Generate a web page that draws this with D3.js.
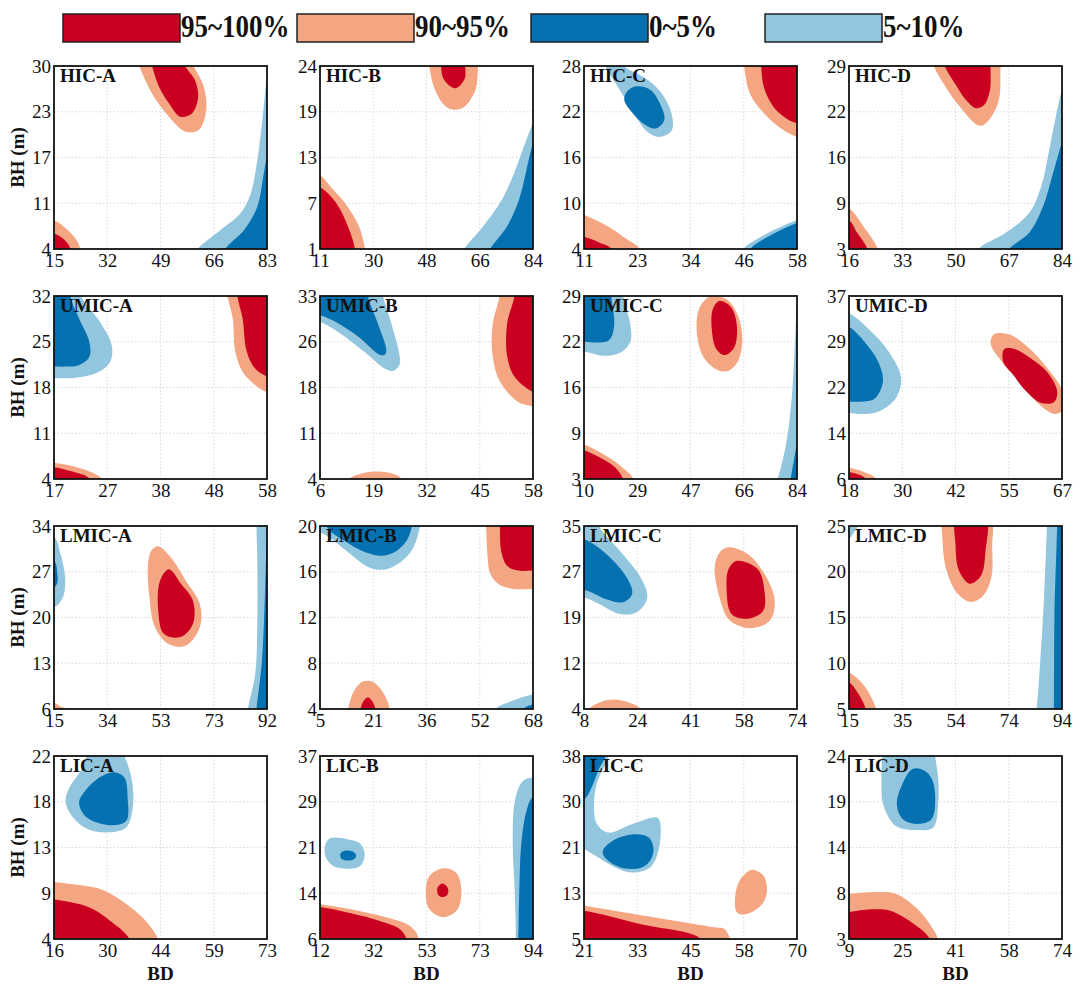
<!DOCTYPE html>
<html><head><meta charset="utf-8">
<script src="https://cdn.jsdelivr.net/npm/d3@7"></script>
<style>
html,body{margin:0;padding:0;background:#fff;}
text{font-family:"Times New Roman","Liberation Serif",serif;}
</style></head>
<body><svg id="chart" width="1080" height="993"></svg>
<script>
// ---------- data ----------
const legendLabels = ["95~100%", "90~95%", "0~5%", "5~10%"];
const legendColors = ["#CA0020", "#F4A582", "#0571B0", "#92C5DE"];
const drawOrder = {"90~95%":0, "5~10%":0, "95~100%":1, "0~5%":1};

const panelNames = ["HIC-A","HIC-B","HIC-C","HIC-D","UMIC-A","UMIC-B","UMIC-C","UMIC-D",
                    "LMIC-A","LMIC-B","LMIC-C","LMIC-D","LIC-A","LIC-B","LIC-C","LIC-D"];
const xDomains = [[15,83],[11,84],[11,58],[16,84],[17,58],[6,58],[10,84],[18,67],
                  [15,92],[5,68],[8,74],[15,94],[16,73],[12,94],[21,70],[9,74]];
const yDomains = [[4,30],[1,24],[4,28],[3,29],[4,32],[4,33],[3,29],[6,37],
                  [6,34],[4,20],[4,35],[5,25],[4,22],[6,37],[5,38],[3,24]];
const xTickLabels = [[15,32,49,66,83],[11,30,48,66,84],[11,23,34,46,58],[16,33,50,67,84],
                     [17,27,38,48,58],[6,19,32,45,58],[10,29,47,66,84],[18,30,42,55,67],
                     [15,34,53,73,92],[5,21,36,52,68],[8,24,41,58,74],[15,35,54,74,94],
                     [16,30,44,59,73],[12,32,53,73,94],[21,33,45,58,70],[9,25,41,58,74]];
const yTickLabels = [[4,11,17,23,30],[1,7,13,19,24],[4,10,16,22,28],[3,9,16,22,29],
                     [4,11,18,25,32],[4,11,18,26,33],[3,9,16,22,29],[6,14,22,29,37],
                     [6,13,20,27,34],[4,8,12,16,20],[4,12,19,27,35],[5,10,15,20,25],
                     [4,9,13,18,22],[6,14,21,29,37],[5,13,21,30,38],[3,8,14,19,24]];

// contour regions per panel: [level, [[BD, BH], ...]]
const HIC_A = [
 ["90~95%", [[39.8,33],[42.2,30],[46.3,26.1],[51.7,22.8],[56.9,20.7],[61.2,20.9],[63.6,23.8],[62.8,27.1],[59.6,30],[57.5,33],[50,35]]],
 ["95~100%", [[44.8,33],[46.3,30],[48.5,27.1],[51.7,24.7],[55.3,22.8],[59.1,23.3],[61,25.6],[60,28],[56.9,30],[55,33],[50,34.5]]],
 ["90~95%", [[8.2,1.4],[8.2,8.4],[15,8.1],[19.1,6.8],[22.1,5.3],[23.4,4],[24.3,1.4]]],
 ["95~100%", [[8.2,1.4],[8.2,6.4],[15,6.2],[17.8,5.5],[19.5,4.7],[20.2,4],[20.6,1.4]]],
 ["5~10%", [[57,1.4],[60.8,4],[68.2,6.7],[74.6,9.1],[77.8,11.9],[79.9,16.6],[81.5,22.3],[83,29],[83.8,32.6],[89.8,32.6],[89.8,1.4]]],
 ["0~5%", [[67.5,1.4],[69.7,4],[75.7,6.7],[79.9,10],[82,14.8],[83,17.1],[84.5,19],[89.8,19],[89.8,1.4]]]
];
const HIC_B = [
 ["90~95%", [[47.5,26.3],[48.4,24],[50.4,21],[54.1,18.9],[57.3,18.5],[60.6,18.9],[64.3,21],[65.2,24],[65.8,26.3]]],
 ["95~100%", [[52.2,26.3],[52.5,24],[53.3,22.4],[57.3,21.2],[60.6,22.4],[60.8,24],[61.4,26.3]]],
 ["90~95%", [[3.7,-1.3],[3.7,11.4],[11,10.3],[14.7,8.8],[19.5,6.8],[24.4,3.8],[26.4,1],[27.1,-1.3]]],
 ["95~100%", [[3.7,-1.3],[3.7,9.7],[11,8.8],[16.5,6.8],[20.6,3.8],[23,1],[23.4,-1.3]]],
 ["5~10%", [[56.3,-1.3],[60.3,1],[66.8,3.8],[72.7,6.8],[77.4,10.4],[80.9,13.9],[84,16.9],[86.2,18.9],[91.3,19.4],[91.3,-1.3]]],
 ["0~5%", [[66.5,-1.3],[69.3,1],[75,3.8],[79.2,7.2],[84,14.3],[86.2,16.2],[91.3,16.2],[91.3,-1.3]]]
];
const HIC_C = [
 ["5~10%", [[15.2,30.4],[15.7,28],[17.6,26.1],[19.9,23.9],[22.3,21.5],[24.9,19.4],[27.5,18.7],[30.2,19.4],[30.6,20.9],[29.1,23.5],[26.5,25.5],[23.4,26.8],[19.9,28],[19,30.4]]],
 ["0~5%", [[20.3,24.5],[22.2,25.3],[25.6,24.9],[28.2,22.5],[28.7,20.9],[26.8,19.8],[24,20.5],[21.2,22.2],[19.9,23.5]]],
 ["90~95%", [[45.8,30.4],[46.3,28],[47.6,24.4],[50.7,21.8],[54.5,19.8],[58,18.7],[62.7,18.2],[62.7,30.4]]],
 ["95~100%", [[50,30.4],[50.1,28],[50.7,25.2],[53,22.5],[56,21],[58,20.5],[62.7,20.1],[62.7,30.4]]],
 ["90~95%", [[6.3,1.6],[6.3,9.5],[11,8.5],[16.5,6.9],[20.4,5.3],[23.4,4],[25.1,1.6]]],
 ["95~100%", [[6.3,1.6],[6.3,6.2],[11,5.6],[14.2,4.9],[17.1,4],[18,1.6]]],
 ["5~10%", [[43.9,1.6],[46.1,4],[51,5.9],[58,7.8],[62.7,8.6],[62.7,1.6]]],
 ["0~5%", [[46.3,1.6],[47.7,4],[51.9,5.7],[58,7.4],[62.7,8.1],[62.7,1.6]]]
];
const HIC_D = [
 ["90~95%", [[41.8,31.6],[43.1,29],[46.3,26.4],[50.5,23.7],[57.8,20.5],[61,21.5],[63.9,24.3],[64.4,29],[65,31.6]]],
 ["95~100%", [[45.9,31.6],[46.6,29],[50,26.4],[53.1,24.3],[56.5,23],[59.2,23.5],[61,25.6],[61.2,29],[61.6,31.6]]],
 ["90~95%", [[9.2,0.4],[9.2,9.8],[16,8.8],[20.8,6.1],[25.2,3],[26.2,0.4]]],
 ["95~100%", [[9.2,0.4],[9.2,7.9],[16,7.1],[18.6,5.3],[21.9,3],[22.8,0.4]]],
 ["5~10%", [[53.4,0.4],[57.2,3],[66,5.3],[73.5,8.1],[77.3,11.8],[79.9,17],[82.2,22.2],[84,25.6],[86,27.7],[90.8,27.7],[90.8,0.4]]],
 ["0~5%", [[63.6,0.4],[67.1,3],[73.5,5.3],[77.9,9],[81.1,13.7],[84,18.1],[86,20.2],[90.8,20.2],[90.8,0.4]]]
];
const UMIC_A = [
 ["5~10%", [[12.9,34.8],[21.9,34.8],[22.2,32],[25.8,28.1],[28.1,24.5],[27.8,21.9],[25.2,20.2],[21.2,19.5],[17,19.4],[12.9,19.4]]],
 ["0~5%", [[12.9,34.8],[19.9,34.8],[20.1,32],[21.8,28.6],[23.8,25],[23.8,22.7],[21.8,21.4],[19.5,21.2],[17,21.2],[12.9,21.2]]],
 ["90~95%", [[50.2,34.8],[50.4,32],[51.4,28.6],[51.9,23.5],[53.3,20.4],[55.7,18.4],[58,17.3],[62.1,16.6],[62.1,34.8]]],
 ["95~100%", [[52.3,34.8],[52.3,32],[53.3,28.6],[54.1,23.5],[55.7,20.9],[58,19.7],[62.1,19.1],[62.1,34.8]]],
 ["90~95%", [[12.9,1.2],[12.9,6.8],[17,6.5],[21.9,5.7],[26.3,4],[27.3,1.2]]],
 ["95~100%", [[12.9,1.2],[12.9,6],[17,5.8],[20.7,5.1],[23.9,4],[24.8,1.2]]]
];
const UMIC_B = [
 ["5~10%", [[0.8,35.9],[20.8,35.9],[21.4,33],[23.4,28.7],[25.4,23.7],[25.4,22.1],[23.8,21.1],[21.8,21.5],[17.7,23.7],[10.4,27.3],[6,28.9],[0.8,30.1]]],
 ["0~5%", [[0.8,35.9],[17.4,35.9],[17.7,33],[20.1,28.7],[22.2,24.4],[21.8,23.7],[20.6,23.7],[15.3,26.6],[10.4,28.7],[6,30],[0.8,31]]],
 ["90~95%", [[49.7,35.9],[49.8,33],[48.2,28.7],[48,24.4],[49.8,19.6],[54.4,16.2],[58,15.5],[63.2,14.7],[63.2,35.9]]],
 ["95~100%", [[53.7,35.9],[53.5,33],[51.7,28.7],[51.7,23.4],[53.5,20.2],[58,17.8],[63.2,17],[63.2,35.9]]],
 ["90~95%", [[12.2,1.1],[13.2,4],[16.4,4.9],[19.5,5.2],[23.4,4.9],[25.9,4],[26.8,1.1]]]
];
const UMIC_C = [
 ["5~10%", [[2.6,31.6],[23.3,31.6],[23.6,29],[26.1,24.9],[26.1,22.5],[22.4,20.9],[16.4,20.5],[10,21.1],[2.6,21.2]]],
 ["0~5%", [[2.6,31.6],[19.3,31.6],[19.5,29],[20.5,24.9],[18.9,22.8],[15.3,22.4],[10,22.5],[2.6,22.5]]],
 ["90~95%", [[53.7,28.9],[50,27.2],[49.2,23.8],[51.4,20.4],[55.9,18.6],[59.6,18.3],[63.3,19.6],[65,22.8],[63.3,26.4],[59.6,28.5]]],
 ["95~100%", [[57.1,28.3],[54.8,27.2],[54.4,24.3],[55.9,21.5],[58.8,20.6],[62.2,21.7],[63.1,24.8],[61.1,27.4]]],
 ["90~95%", [[2.6,0.4],[2.6,8.5],[10,7.9],[17.6,6.3],[22.6,4.9],[27.2,3],[28.5,0.4]]],
 ["95~100%", [[2.6,0.4],[2.6,7.7],[10,7.1],[15.3,6.1],[20.4,4.8],[23.6,3],[24.8,0.4]]],
 ["5~10%", [[75.1,0.4],[77.3,3],[80.3,8.2],[82.2,14.7],[83.3,22.5],[84,28.5],[84.7,31.6],[91.4,31.6],[91.4,0.4]]],
 ["0~5%", [[81,0.4],[81.8,3],[82.9,5.6],[84,7.9],[85.5,9.5],[91.4,9.5],[91.4,0.4]]]
];
const UMIC_D = [
 ["5~10%", [[13.1,35.5],[18,34.1],[22.4,31.5],[27.1,27.6],[30,23.1],[28.7,19.6],[24.7,17.4],[20.7,17],[18,17.2],[13.1,16.9]]],
 ["0~5%", [[13.1,33],[18,31.8],[21.5,29.3],[24.7,25.9],[25.8,22.5],[23.9,19.6],[20.7,19.1],[18,19.1],[13.1,19]]],
 ["90~95%", [[51.3,30.5],[54.8,30.5],[59.2,28.3],[63.6,24.8],[67,21.2],[68,18.4],[65.5,17],[62.1,18.4],[57.2,22.5],[52.8,26.2],[50.6,28.9]]],
 ["95~100%", [[53.7,28],[56.2,28],[59.7,26.5],[63.5,24.2],[65.9,20.8],[65.1,19],[62.1,18.9],[58.7,20.9],[55.7,23.7],[53.5,25.8]]],
 ["90~95%", [[13.1,2.9],[13.1,8.2],[18,7.9],[21.4,7.2],[24.3,6],[24.9,2.9]]],
 ["95~100%", [[13.1,2.9],[13.1,7.4],[18,7.2],[20,6.8],[21.9,6],[22.4,2.9]]]
];
const LMIC_A = [
 ["5~10%", [[7.3,32.6],[15,32.3],[17.3,29.8],[19,26.2],[18.5,23.4],[16.5,22],[15,21.6],[7.3,21.4]]],
 ["0~5%", [[7.3,29],[15,28.7],[16.2,26.7],[16.2,25.3],[15,24.6],[7.3,24.5]]],
 ["90~95%", [[50.3,30.3],[52.7,30.9],[57.2,29.2],[62.7,25.6],[67.7,22.1],[67.7,18.5],[62.7,15.7],[56.5,15.9],[51.5,18.5],[49.5,23.1],[49,28.2]]],
 ["95~100%", [[56.5,27.4],[61.2,25],[65.2,22.6],[65.2,19],[60.7,17],[54.7,17.5],[52.7,21],[53.3,25.6]]],
 ["5~10%", [[84.3,3.2],[85.1,6],[87.8,11.6],[88.5,20],[88.5,28.4],[88.2,34],[88.2,36.8],[99.7,36.8],[99.7,3.2]]],
 ["0~5%", [[87.8,3.2],[88.2,6],[90.1,13],[91.2,22.8],[91.8,31.2],[92,34],[92,36.8],[99.7,36.8],[99.7,3.2]]],
 ["90~95%", [[7.3,3.2],[7.3,7],[15,6.9],[17.3,6.4],[19.2,6],[19.6,3.2]]]
];
const LMIC_B = [
 ["5~10%", [[-1.3,21.6],[-1.3,19.5],[5,19.4],[8.2,18.9],[13.3,17.7],[19.4,16.4],[24.5,16.2],[29.5,17],[32.6,18.1],[34.6,20],[35.2,21.6]]],
 ["0~5%", [[6.3,21.6],[7.1,19.9],[12.2,18.7],[18.4,17.7],[23.5,17.4],[27.5,17.8],[30.6,18.7],[32.2,20],[32.7,21.6]]],
 ["90~95%", [[53.5,21.6],[54.1,20],[54.5,17.6],[55.4,15.8],[57.9,14.9],[62.1,14.5],[68,14.5],[74.3,14.4],[74.3,21.6]]],
 ["95~100%", [[57.9,21.6],[58.2,20],[58.6,17.8],[60.4,16.5],[63.6,16.1],[68,16.1],[74.3,16],[74.3,21.6]]],
 ["90~95%", [[12.6,2.4],[13.3,4],[15.1,5.6],[17.6,6.4],[20.4,6.4],[23.3,5.6],[25.2,4.5],[25.5,4],[25.8,2.4]]],
 ["95~100%", [[16.7,2.4],[17,4],[17.9,4.7],[19.2,5],[20.4,4.7],[21.4,4],[21.7,2.4]]],
 ["5~10%", [[55.4,2.4],[57,4],[61.7,4.7],[68,5.3],[74.3,5.6],[74.3,2.4]]],
 ["0~5%", [[64.9,2.4],[65.2,4],[68,4.4],[74.3,4.5],[74.3,2.4]]]
];
const LMIC_C = [
 ["5~10%", [[1.4,38.1],[12,38.1],[12.7,35],[19.1,30.8],[25.5,26.3],[27.6,22.9],[24.4,20.4],[19.1,20.1],[12.7,21.8],[8,22.9],[1.4,23.2]]],
 ["0~5%", [[1.4,33.5],[8,32.8],[14.8,30.3],[21.2,26.3],[22.9,23.5],[20.1,22.1],[14.8,22.6],[8.4,24.1],[1.4,24.2]]],
 ["90~95%", [[52.8,31.4],[58.6,30.3],[63.9,26.9],[67.1,22.4],[65.6,19],[59.7,17.7],[53.2,19],[50,22.9],[48.5,28],[50,30.5]]],
 ["95~100%", [[55.4,29.1],[61.8,27.7],[63.9,24.1],[63.5,20.6],[58.6,19.3],[53.7,20.1],[52.2,24.1],[52.8,27.7]]],
 ["90~95%", [[8,0.9],[9.5,4],[13.3,5.2],[17.4,5.6],[21.9,5.1],[25.5,4],[26.5,0.9]]]
];
const LMIC_D = [
 ["5~10%", [[7.1,27],[18.6,27],[18.2,25],[16.6,24.2],[15,23.6],[7.1,23.4]]],
 ["90~95%", [[50.6,26],[49.8,23],[51.3,20],[55.3,17.6],[60.3,16.7],[64.8,17.4],[67.8,19.4],[68.1,22.6],[67.1,26]]],
 ["95~100%", [[54.9,26],[54.5,23],[55.7,20.2],[59.8,18.7],[64,19.6],[65.6,22.2],[65.6,26]]],
 ["5~10%", [[83.7,3],[84.6,5],[86.1,11],[87.3,17],[88.4,25],[88.5,27],[101.9,27],[101.9,3]]],
 ["0~5%", [[90.8,3],[91,5],[91.2,15],[92,23],[92.2,25],[92.2,27],[101.9,27],[101.9,3]]],
 ["90~95%", [[7.1,3],[7.1,9.4],[15,9],[20.5,7.6],[25.1,5],[26.1,3]]],
 ["95~100%", [[7.1,3],[7.1,8.2],[15,7.9],[18.6,6.6],[21.2,5],[22.1,3]]]
];
const LIC_A = [
 ["5~10%", [[26.3,22.9],[23.4,20.7],[20,18.8],[19.1,17.5],[20.8,16.1],[25.1,14.8],[30.8,14.5],[35.4,15],[37.1,17],[36.8,19.7],[34.8,22],[33.1,22.9]]],
 ["0~5%", [[32,20.4],[27.4,19.7],[24,18.4],[22.7,17.4],[24.6,16],[30.7,15.2],[35.3,15.6],[35.7,17.9],[34.8,19.9]]],
 ["90~95%", [[10.3,2.2],[10.3,9.9],[16,9.6],[22.8,9.3],[29.2,8.8],[36.6,7.1],[41.2,5.5],[43.8,4],[44.5,2.2]]],
 ["95~100%", [[10.3,2.2],[10.3,8.1],[16,7.9],[25.5,7.1],[31,5.8],[36.2,4],[37.1,2.2]]]
];
const LIC_B = [
 ["5~10%", [[16.1,23.1],[22.7,22.9],[27.6,22.1],[29.2,20.3],[27.6,18.4],[22.7,17.9],[16.9,18.4],[14.1,20],[14.1,22.1]]],
 ["0~5%", [[22.7,21],[25.1,20.7],[25.9,20.1],[25.1,19.5],[22.7,19.3],[20.2,19.6],[19.8,20.3],[20.6,20.8]]],
 ["90~95%", [[59.6,18],[64.5,17.2],[66.4,14.4],[64.9,11],[59.6,9.7],[54.2,11],[52.7,13.8],[54.2,16.7]]],
 ["95~100%", [[59.2,15.4],[61,14.8],[61.4,14.2],[60.9,13.4],[59.2,13.1],[57.6,13.4],[57.1,14.2],[57.5,14.9]]],
 ["90~95%", [[3.8,2.9],[3.8,12.2],[12,11.9],[24.3,11],[37.3,9.7],[45.6,8.5],[48.9,7.2],[50,6],[50.5,2.9]]],
 ["95~100%", [[3.8,2.9],[3.8,11.6],[12,11.4],[24.3,10.3],[34.7,9.1],[42.7,7.7],[45.3,6],[45.6,2.9]]],
 ["5~10%", [[86.6,2.9],[87.3,6],[87,13.8],[86.2,22.1],[87,29.3],[89.9,32.7],[94,33.4],[102.2,33.6],[102.2,2.9]]],
 ["0~5%", [[87.9,2.9],[88.3,6],[88.7,13.8],[89.5,22.1],[91.5,27.7],[94,30],[102.2,30.2],[102.2,2.9]]]
];
const LIC_C = [
 ["5~10%", [[16.1,41.3],[26.7,41.3],[26.6,38],[24,33.2],[23.3,29],[24,25.7],[26.6,24.2],[32,25.7],[37.8,26.9],[38.5,26],[38.2,21.2],[36.2,17.9],[32,17],[28.2,17.9],[23.6,20],[21,21.2],[16.1,21.5]]],
 ["0~5%", [[16.1,41.3],[26,41.3],[25.9,38],[24.4,35.6],[22.9,32.6],[21,30.2],[16.1,29.8]]],
 ["0~5%", [[25.5,21.2],[28.2,23],[32.8,23.9],[35.9,23.3],[37,21.2],[36.2,19.1],[34.3,17.9],[30.5,17.7],[27.1,18.8],[25.4,20.2]]],
 ["90~95%", [[59.7,17.5],[62.3,16.4],[63.1,13.7],[62,11.3],[58.5,9.5],[56.2,9.8],[55.8,12.8],[57,15.8]]],
 ["90~95%", [[16.1,1.7],[16.1,11.5],[21,11],[36,9.05],[51,7.1],[53.3,6.8],[54.5,5.3],[54.6,5],[54.8,1.7]]],
 ["95~100%", [[16.1,1.7],[16.1,10.3],[21,10.1],[34.4,7.6],[47.8,5],[48.5,1.7]]]
];
const LIC_D = [
 ["5~10%", [[19.4,26.1],[19.1,24],[18.9,20.8],[19.4,18.5],[23.2,16],[29.5,15.5],[34.7,15.8],[36.2,18.5],[36.2,21.5],[35.3,24],[35,26.1]]],
 ["0~5%", [[28.4,22.5],[25.3,20.8],[23.6,18.5],[25.3,16.8],[29.5,16.2],[34.1,16.7],[35.3,19.3],[34.1,21.5],[31.6,22.4]]],
 ["90~95%", [[2.5,0.9],[2.5,8],[9,8.2],[16.9,8.4],[23.2,8.2],[29.5,6.6],[33.7,4.7],[36.2,3],[37,0.9]]],
 ["95~100%", [[2.5,0.9],[2.5,5.9],[9,6.1],[15.8,6.4],[21.1,6.3],[27.4,5.1],[33.7,3],[34.4,0.9]]]
];
const panelRegions = [HIC_A, HIC_B, HIC_C, HIC_D, UMIC_A, UMIC_B, UMIC_C, UMIC_D,
                      LMIC_A, LMIC_B, LMIC_C, LMIC_D, LIC_A, LIC_B, LIC_C, LIC_D];

// ---------- layout ----------
const W = 213, H = 183;
const colX = [54, 320, 584, 849];
const rowY = [66, 296, 526, 756];
const colorOf = l => legendColors[legendLabels.indexOf(l)];

const svg = d3.select("#chart");
svg.append("rect").attr("width",1080).attr("height",993).attr("fill","#fff");

// legend
const legX = [63, 297, 531, 765];
legendLabels.forEach((lab, i) => {
  svg.append("rect").attr("x", legX[i]).attr("y", 14).attr("width", 117).attr("height", 28)
    .attr("fill", legendColors[i]).attr("stroke", "#222").attr("stroke-width", 1.5);
  svg.append("g").attr("transform", `translate(${legX[i] + 118},37) scale(0.87,1)`)
    .append("text").attr("font-size", 31).attr("font-weight", "bold").attr("fill", "#111").text(lab);
});

panelNames.forEach((name, i) => {
  const col = i % 4, row = Math.floor(i / 4);
  const xd = xDomains[i], yd = yDomains[i];
  const x = d3.scaleLinear().domain(xd).range([0, W]);
  const y = d3.scaleLinear().domain(yd).range([H, 0]);
  const xt = d3.range(5).map(k => xd[0] + k * (xd[1] - xd[0]) / 4);
  const yt = d3.range(5).map(k => yd[0] + k * (yd[1] - yd[0]) / 4);
  const g = svg.append("g").attr("transform", `translate(${colX[col]},${rowY[row]})`);
  const cid = "clip" + i;
  g.append("clipPath").attr("id", cid).append("rect").attr("width", W).attr("height", H);
  const inner = g.append("g").attr("clip-path", `url(#${cid})`);

  // grid
  inner.selectAll(".gx").data(xt.slice(1, 4)).join("line")
    .attr("x1", d => x(d)).attr("x2", d => x(d)).attr("y1", 0).attr("y2", H)
    .attr("stroke", "#cfcfcf").attr("stroke-width", 0.8).attr("stroke-dasharray", "1.5,2");
  inner.selectAll(".gy").data(yt.slice(1, 4)).join("line")
    .attr("y1", d => y(d)).attr("y2", d => y(d)).attr("x1", 0).attr("x2", W)
    .attr("stroke", "#cfcfcf").attr("stroke-width", 0.8).attr("stroke-dasharray", "1.5,2");

  // contour regions
  const line = d3.line().x(d => x(d[0])).y(d => y(d[1])).curve(d3.curveCatmullRomClosed.alpha(0.5));
  const regs = panelRegions[i].slice().sort((a, b) => drawOrder[a[0]] - drawOrder[b[0]]);
  inner.selectAll("path.reg").data(regs).join("path").attr("class", "reg")
    .attr("d", d => line(d[1])).attr("fill", d => colorOf(d[0])).attr("stroke", "none");

  // frame
  g.append("rect").attr("width", W).attr("height", H).attr("fill", "none")
    .attr("stroke", "#111").attr("stroke-width", 1.8);

  // title
  g.append("text").attr("x", 6).attr("y", 16).attr("font-size", 19).attr("font-weight", "bold")
    .attr("fill", "#111").text(name);

  // axes
  const ax = g.append("g").attr("transform", `translate(0,${H})`)
    .call(d3.axisBottom(x).tickValues(xt).tickSize(0).tickPadding(5)
      .tickFormat((d, k) => xTickLabels[i][k]));
  const ay = g.append("g")
    .call(d3.axisLeft(y).tickValues(yt).tickSize(0).tickPadding(3)
      .tickFormat((d, k) => yTickLabels[i][k]));
  [ax, ay].forEach(a => {
    a.select(".domain").remove();
    a.selectAll("text").attr("font-size", 19).attr("fill", "#111")
      .attr("font-family", '"Times New Roman","Liberation Serif",serif');
  });

  if (col === 0) {
    svg.append("text").attr("transform", `translate(23.5,${rowY[row] + H / 2}) rotate(-90)`)
      .attr("text-anchor", "middle").attr("font-size", 19).attr("font-weight", "bold")
      .attr("fill", "#111").text("BH (m)");
  }
  if (row === 3) {
    svg.append("text").attr("x", colX[col] + W / 2).attr("y", 980)
      .attr("text-anchor", "middle").attr("font-size", 19).attr("font-weight", "bold")
      .attr("fill", "#111").text("BD");
  }
});
</script></body></html>
